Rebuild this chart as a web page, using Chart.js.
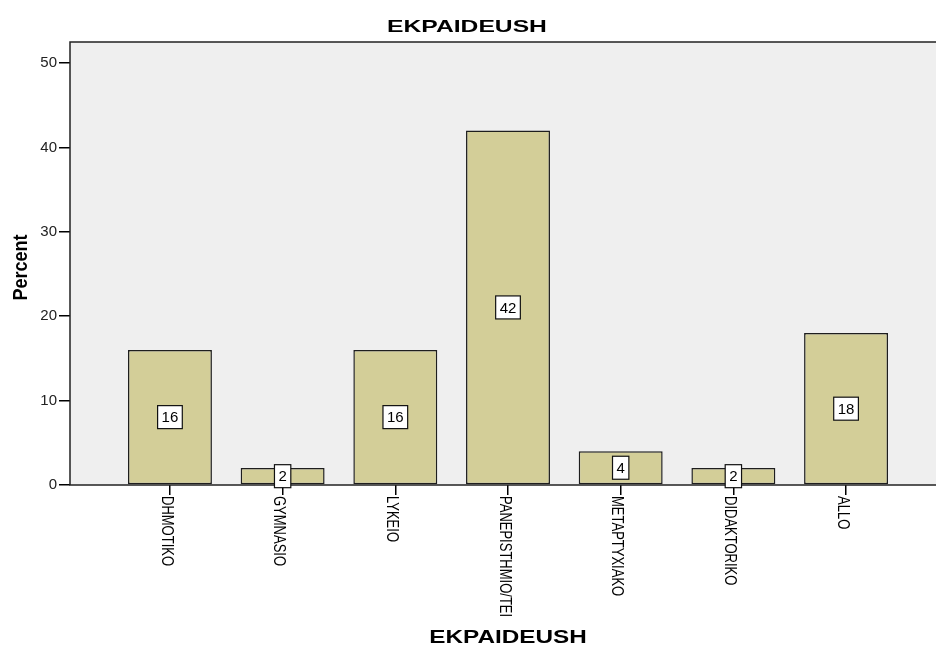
<!DOCTYPE html>
<html>
<head>
<meta charset="utf-8">
<title>EKPAIDEUSH</title>
<script src="https://cdn.jsdelivr.net/npm/chart.js@4/dist/chart.umd.min.js"></script>
<style>
    html, body { margin: 0; padding: 0; background: #fff; }
    #wrap { width: 936px; height: 646px; overflow: hidden; }
</style>
</head>
<body>
<div id="wrap"><canvas id="grafico" width="950" height="646"></canvas></div>
<script>
// Dados do gráfico
const categorias = ['DHMOTIKO', 'GYMNASIO', 'LYKEIO', 'PANEPISTHMIO/TEI', 'METAPTYXIAKO', 'DIDAKTORIKO', 'ALLO'];
const percentuais = [16, 2, 16, 42, 4, 2, 18];
const ticksY = [0, 10, 20, 30, 40, 50];
const tituloGrafico = 'EKPAIDEUSH';
const tituloX = 'EKPAIDEUSH';
const tituloY = 'Percent';

const fonte = "'Liberation Sans', Arial, sans-serif";

// Fundo cinza da área do gráfico
const pluginFundo = {
    id: 'fundo',
    beforeDatasetsDraw(chart) {
        const a = chart.chartArea;
        const ctx = chart.ctx;
        ctx.save();
        ctx.fillStyle = '#efefef';
        ctx.fillRect(a.left, a.top, a.right - a.left, a.bottom - a.top);
        ctx.restore();
    }
};

// Caixas com os valores, rótulos rodados e títulos
const pluginTextos = {
    id: 'textos',
    afterDatasetsDraw(chart) {
        const ctx = chart.ctx;
        const a = chart.chartArea;
        const meta = chart.getDatasetMeta(0);

        // moldura
        ctx.save();
        ctx.strokeStyle = '#222';
        ctx.lineWidth = 1.5;
        ctx.strokeRect(a.left, a.top, a.right - a.left, a.bottom - a.top);
        ctx.restore();

        // valores no meio das barras
        ctx.save();
        ctx.font = '15px ' + fonte;
        ctx.textAlign = 'center';
        ctx.textBaseline = 'middle';
        meta.data.forEach((barra, i) => {
            const txt = String(percentuais[i]);
            const cy = (barra.y + barra.base) / 2;
            const w = ctx.measureText(txt).width + 8;
            const h = 23;
            ctx.fillStyle = '#fff';
            ctx.fillRect(barra.x - w / 2, cy - h / 2, w, h);
            ctx.strokeStyle = '#111';
            ctx.lineWidth = 1.2;
            ctx.strokeRect(barra.x - w / 2, cy - h / 2, w, h);
            ctx.fillStyle = '#000';
            ctx.fillText(txt, barra.x, cy + 1);
        });
        ctx.restore();
    },
    afterDraw(chart) {
        const ctx = chart.ctx;
        const a = chart.chartArea;
        const escalaX = chart.scales.x;

        // rótulos do eixo X, rodados no sentido horário
        ctx.save();
        ctx.font = '13px ' + fonte;
        ctx.fillStyle = '#000';
        ctx.textAlign = 'left';
        ctx.textBaseline = 'alphabetic';
        categorias.forEach((nome, i) => {
            const px = escalaX.getPixelForValue(i);
            ctx.save();
            ctx.translate(px, a.bottom + 11);
            ctx.rotate(Math.PI / 2);
            ctx.scale(1, 1.3);
            ctx.fillText(nome, 0, 6.5);
            ctx.restore();
        });
        ctx.restore();

        // título principal
        ctx.save();
        ctx.font = 'bold 17px ' + fonte;
        ctx.fillStyle = '#000';
        ctx.textAlign = 'center';
        ctx.textBaseline = 'alphabetic';
        ctx.translate(467, 32);
        ctx.scale(1.45, 1);
        ctx.fillText(tituloGrafico, 0, 0);
        ctx.restore();

        // título do eixo X
        ctx.save();
        ctx.font = 'bold 18px ' + fonte;
        ctx.fillStyle = '#000';
        ctx.textAlign = 'center';
        ctx.translate((a.left + a.right) / 2, 643);
        ctx.scale(1.35, 1);
        ctx.fillText(tituloX, 0, 0);
        ctx.restore();

        // título do eixo Y
        ctx.save();
        ctx.font = 'bold 18px ' + fonte;
        ctx.fillStyle = '#000';
        ctx.textAlign = 'center';
        ctx.translate(27, (a.top + a.bottom) / 2 + 4);
        ctx.rotate(-Math.PI / 2);
        ctx.scale(1, 1.08);
        ctx.fillText(tituloY, 0, 0);
        ctx.restore();
    }
};

const ctx = document.getElementById('grafico').getContext('2d');
new Chart(ctx, {
    type: 'bar',
    data: {
        datasets: [{
            label: 'Percent',
            data: percentuais.map((v, i) => ({ x: i, y: v })),
            backgroundColor: '#d3ce98',
            borderColor: '#1e1e1e',
            borderWidth: 1.5,
            borderSkipped: false,
            barPercentage: 0.745,
            categoryPercentage: 1
        }]
    },
    options: {
        responsive: false,
        animation: false,
        devicePixelRatio: 1,
        layout: { padding: { top: 42, left: 0, right: 4, bottom: 0 } },
        plugins: {
            legend: { display: false },
            tooltip: { enabled: false },
            title: { display: false }
        },
        scales: {
            x: {
                type: 'linear',
                min: -0.887,
                max: 6.887,
                offset: false,
                afterBuildTicks: (s) => { s.ticks = categorias.map((c, i) => ({ value: i })); },
                afterFit: (s) => { s.height = 161; },
                grid: { display: true, drawOnChartArea: false, offset: false, tickLength: 10, color: '#000', lineWidth: 1.5 },
                border: { display: false },
                ticks: { display: false }
            },
            y: {
                min: 0,
                max: 52.5,
                afterBuildTicks: (s) => { s.ticks = ticksY.map(v => ({ value: v })); },
                afterFit: (s) => { s.width = 70; },
                grid: { display: true, drawOnChartArea: false, tickLength: 11, color: '#000', lineWidth: 1.5 },
                border: { display: false },
                ticks: { padding: 2, color: '#222', font: { size: 15, family: fonte } }
            }
        }
    },
    plugins: [pluginFundo, pluginTextos]
});
</script>
</body>
</html>
